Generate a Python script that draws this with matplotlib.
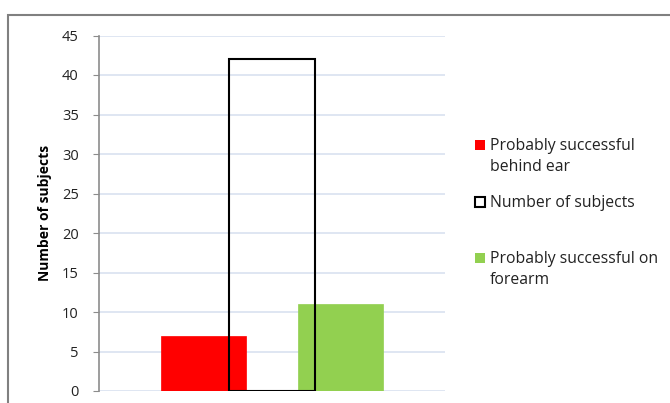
import matplotlib.pyplot as plt
from matplotlib.patches import Rectangle

plt.rcParams['font.family'] = ['Open Sans', 'DejaVu Sans']

labels = ["Probably successful\nbehind ear", "Number of subjects", "Probably successful on\nforearm"]
values = [7, 42, 11]
colors = ["#ff0000", "none", "#92d050"]
edges = ["#ff0000", "black", "#92d050"]
offsets = [-0.198, 0.0, 0.198]
yticks = [0, 5, 10, 15, 20, 25, 30, 35, 40, 45]

W, H = 670, 403
fig = plt.figure(figsize=(W / 100, H / 100), dpi=100)
ax = fig.add_axes([99 / W, 1 - 391 / H, (445 - 99) / W, (391 - 35.5) / H])

# draw red/green first, then the outlined bar on top
for i in [0, 2, 1]:
    ax.bar(offsets[i], values[i], width=0.246, color=colors[i], edgecolor=edges[i],
           linewidth=1.5 if i == 1 else 0.5, zorder=3)

ax.set_xlim(-0.5, 0.5)
ax.set_ylim(0, 45)
ax.set_yticks(yticks)
ax.set_xticks([])
ax.yaxis.grid(True, color="#d9e1f0", linewidth=1.2, zorder=0)
ax.set_axisbelow(True)
for s in ["top", "right", "bottom"]:
    ax.spines[s].set_visible(False)
ax.spines["left"].set_color("#8c8c8c")
ax.spines["left"].set_linewidth(1.2)
ax.tick_params(axis="y", length=4.5, pad=10, color="#8c8c8c", labelsize=10.5, labelcolor="#222222")
ax.set_ylabel("Number of subjects", fontsize=10, fontweight="bold", labelpad=7)

# legend drawn by hand to match the spacing
sq = 10
leg_y = [145, 202, 258]
for lab, c, e, y in zip(labels, colors, edges, leg_y):
    fig.patches.append(Rectangle((475 / W, 1 - (y + sq / 2) / H), sq / W, sq / H,
                                 transform=fig.transFigure, facecolor="white" if c == "none" else c,
                                 edgecolor=e, linewidth=1.5 if c == "none" else 0))
    fig.text(490 / W, 1 - (y - 7) / H, lab, fontsize=11.3, va="top", ha="left",
             color="#222222", linespacing=1.4)

# outer border
fig.patches.append(Rectangle((8 / W, -0.1), 1.1, 1 - 15 / H + 0.1, transform=fig.transFigure,
                             fill=False, edgecolor="#808080", linewidth=1.5))

fig.savefig("out.png", dpi=100)
